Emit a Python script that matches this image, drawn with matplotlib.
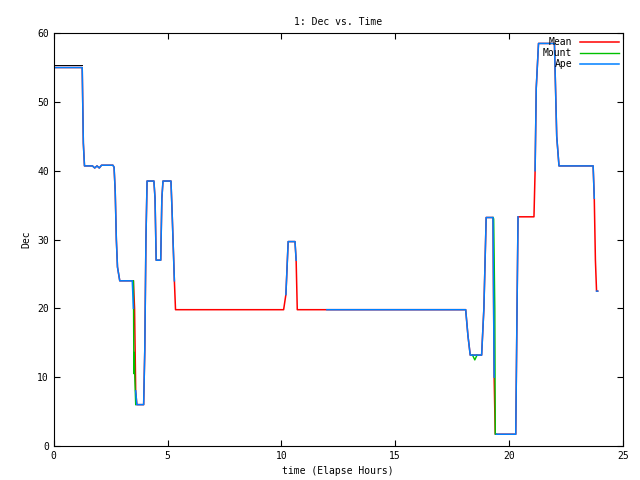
import numpy as np
import matplotlib
matplotlib.use("Agg")
import matplotlib.pyplot as plt

mean_t = [0,1.25,1.3,1.35,1.7,1.8,1.9,2.0,2.1,2.6,2.65,2.7,2.75,2.8,2.9,3.5,3.55,3.6,3.65,3.95,4.0,4.05,4.1,4.4,4.45,4.5,4.7,4.75,4.8,5.15,5.2,5.3,5.35,10.1,10.2,10.3,10.6,10.65,10.7,12.0,18.1,18.2,18.3,18.8,18.9,19.0,19.3,19.35,19.4,20.3,20.35,20.4,21.1,21.15,21.2,21.3,22.0,22.1,22.2,23.7,23.75,23.8,23.85,23.9]
mean_y = [55,55,44,40.7,40.7,40.4,40.7,40.4,40.8,40.8,40.5,37,30,26,24,24,20,8,6,6,14,30,38.5,38.5,36,27,27,36,38.5,38.5,34,24,19.8,19.8,22,29.7,29.7,27,19.8,19.8,19.8,16,13.2,13.2,20,33.2,33.2,10,1.7,1.7,18,33.3,33.3,40,52,58.5,58.5,45,40.7,40.7,36,27,22.5,22.5]

mount_t = [3.5,3.52,3.54,3.56,3.6,np.nan,18.4,18.5,18.6,np.nan,19.3,19.33,19.38,19.4,19.45]
mount_y = [24,10.5,13.6,10,6,np.nan,13.2,12.5,13.2,np.nan,33.2,33,20,1.7,1.7]

ape_t = [0,1.25,1.3,1.35,1.7,1.8,1.9,2.0,2.1,2.6,2.65,2.7,2.75,2.8,2.9,3.45,3.5,np.nan,3.6,3.65,3.95,4.0,4.05,4.1,4.4,4.45,4.5,4.7,4.75,4.8,5.15,5.2,5.3,np.nan,10.2,10.3,10.6,10.65,np.nan,12.0,18.1,18.2,18.3,18.8,18.9,19.0,19.3,19.35,np.nan,19.45,20.3,20.35,20.4,np.nan,21.15,21.2,21.3,22.0,22.1,22.2,23.7,23.75,np.nan,23.85,23.9]
ape_y = [55,55,44,40.7,40.7,40.4,40.7,40.4,40.8,40.8,40.5,37,30,26,24,24,20,np.nan,8,6,6,14,30,38.5,38.5,36,27,27,36,38.5,38.5,34,24,np.nan,22,29.7,29.7,27,np.nan,19.8,19.8,16,13.2,13.2,20,33.2,33.2,10,np.nan,1.7,1.7,18,33.3,np.nan,40,52,58.5,58.5,45,40.7,40.7,36,np.nan,22.5,22.5]

plt.rcParams['font.family'] = ['DejaVu Sans Mono']
plt.rcParams['font.size'] = 7
fig = plt.figure(figsize=(6.4, 4.8), dpi=100)
ax = fig.add_axes([0.084, 0.071, 0.889, 0.860])
ax.plot(mean_t, mean_y, color='#ff0000', lw=1.1, label='Mean')
ax.plot(mount_t, mount_y, color='#00c000', lw=1.0, label='Mount')
ax.plot([0,1.25],[55.3,55.3], color='black', lw=0.7)
ax.plot(ape_t, ape_y, color='#0080ff', lw=1.1, label='Ape')
ax.set_xlim(0, 25)
ax.set_ylim(0, 60)
ax.set_xticks(range(0, 26, 5))
ax.set_yticks(range(0, 61, 10))
ax.tick_params(direction='in', top=True, right=True, length=4)
ax.set_xlabel('time (Elapse Hours)')
ax.set_ylabel('Dec')
ax.set_title('1: Dec vs. Time', fontsize=7)
leg = ax.legend(loc='upper right', frameon=False, markerfirst=False, handlelength=4, borderpad=0.1, labelspacing=0.1, borderaxespad=0.3)
fig.savefig('out.png', dpi=100)
